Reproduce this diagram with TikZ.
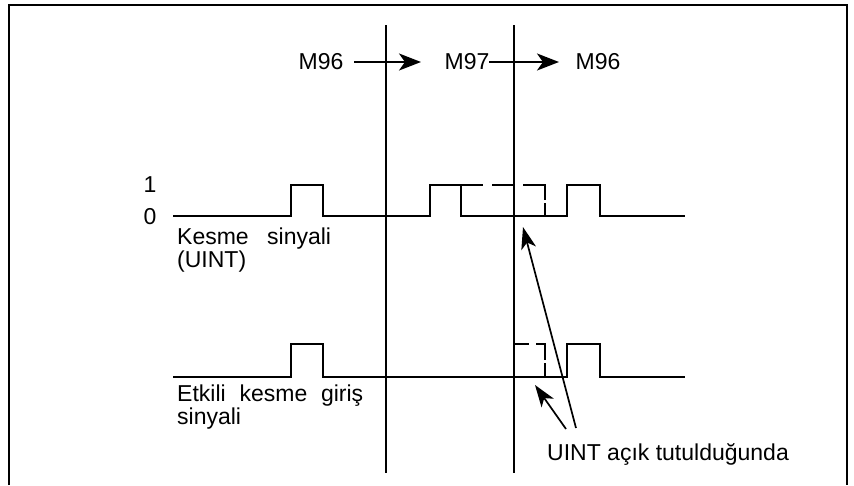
\documentclass[tikz,border=0pt]{standalone}
\usepackage{fontspec}
\setmainfont{Liberation Sans}
\usetikzlibrary{arrows.meta}
\begin{document}
\begin{tikzpicture}[x=1pt,y=-1pt,
  lbl/.style={inner sep=0pt,font=\fontsize{23}{26}\selectfont},
  sig/.style={line width=2.2pt,line join=miter},
  bigarrow/.style={line width=2.2pt,-{Stealth[length=22pt,width=17pt,inset=6pt]}},
  pointer/.style={line width=1.7pt,-{Stealth[length=22pt,width=15pt,inset=6pt]}},
  frameline/.style={line width=2pt}]
\useasboundingbox (0,0) rectangle (854,485);
% frame
\coordinate (f1) at (9,485);
\coordinate (f2) at (9,5);
\coordinate (f3) at (847,5);
\coordinate (f4) at (847,485);
\draw[frameline] (f1) -- (f2) -- (f3) -- (f4);
% vertical time lines
\coordinate (v1t) at (386,25); \coordinate (v1b) at (386,473);
\coordinate (v2t) at (514,25); \coordinate (v2b) at (514,473);
\draw[sig] (v1t) -- (v1b);
\draw[sig] (v2t) -- (v2b);
% M labels
\node[lbl] (m1) at (321,62) {M96};
\node[lbl] (m2) at (467,62) {M97};
\node[lbl] (m3) at (598,62) {M96};
\coordinate (a1s) at (354,62); \coordinate (a1e) at (421,62);
\coordinate (a2s) at (489,62); \coordinate (a2e) at (559,62);
\draw[bigarrow] (a1s) -- (a1e);
\draw[bigarrow] (a2s) -- (a2e);
% level labels
\node[lbl] (one) at (150,185) {1};
\node[lbl] (zero) at (150,217) {0};
% top signal
\draw[sig] (173,216) -- (291,216) -- (291,185) -- (323,185) -- (323,216)
  -- (430,216) -- (430,185) -- (461,185) -- (461,216) -- (567,216)
  -- (567,185) -- (600,185) -- (600,216) -- (685,216);
\draw[line width=2.2pt,dash pattern=on 22pt off 9pt on 23pt off 8pt on 37pt off 3pt on 13pt]
  (461,185) -- (545,185) -- (545,216);
% bottom signal
\draw[sig] (173,377) -- (291,377) -- (291,344) -- (323,344) -- (323,377)
  -- (567,377) -- (567,344) -- (600,344) -- (600,377) -- (685,377);
\draw[line width=2.2pt,dash pattern=on 15pt off 7pt on 25pt off 3pt on 14pt]
  (514,344) -- (545,344) -- (545,377);
% text labels
\node[lbl,anchor=base west] (k1) at (177,244) {Kesme\hspace{0.8em}sinyali};
\node[lbl,anchor=base west] (k2) at (177,267) {(UINT)};
\node[lbl,anchor=base west] (e1) at (177,401) {Etkili\hspace{0.6em}kesme\hspace{0.6em}giriş};
\node[lbl,anchor=base west] (e2) at (177,424) {sinyali};
\node[lbl,anchor=base west] (u) at (547,460) {UINT açık tutulduğunda};
% pointers
\coordinate (p1s) at (576,428); \coordinate (p1e) at (523,227);
\coordinate (p2s) at (566,429); \coordinate (p2e) at (535,385);
\draw[pointer] (p1s) -- (p1e);
\draw[pointer] (p2s) -- (p2e);
\end{tikzpicture}
\end{document}
